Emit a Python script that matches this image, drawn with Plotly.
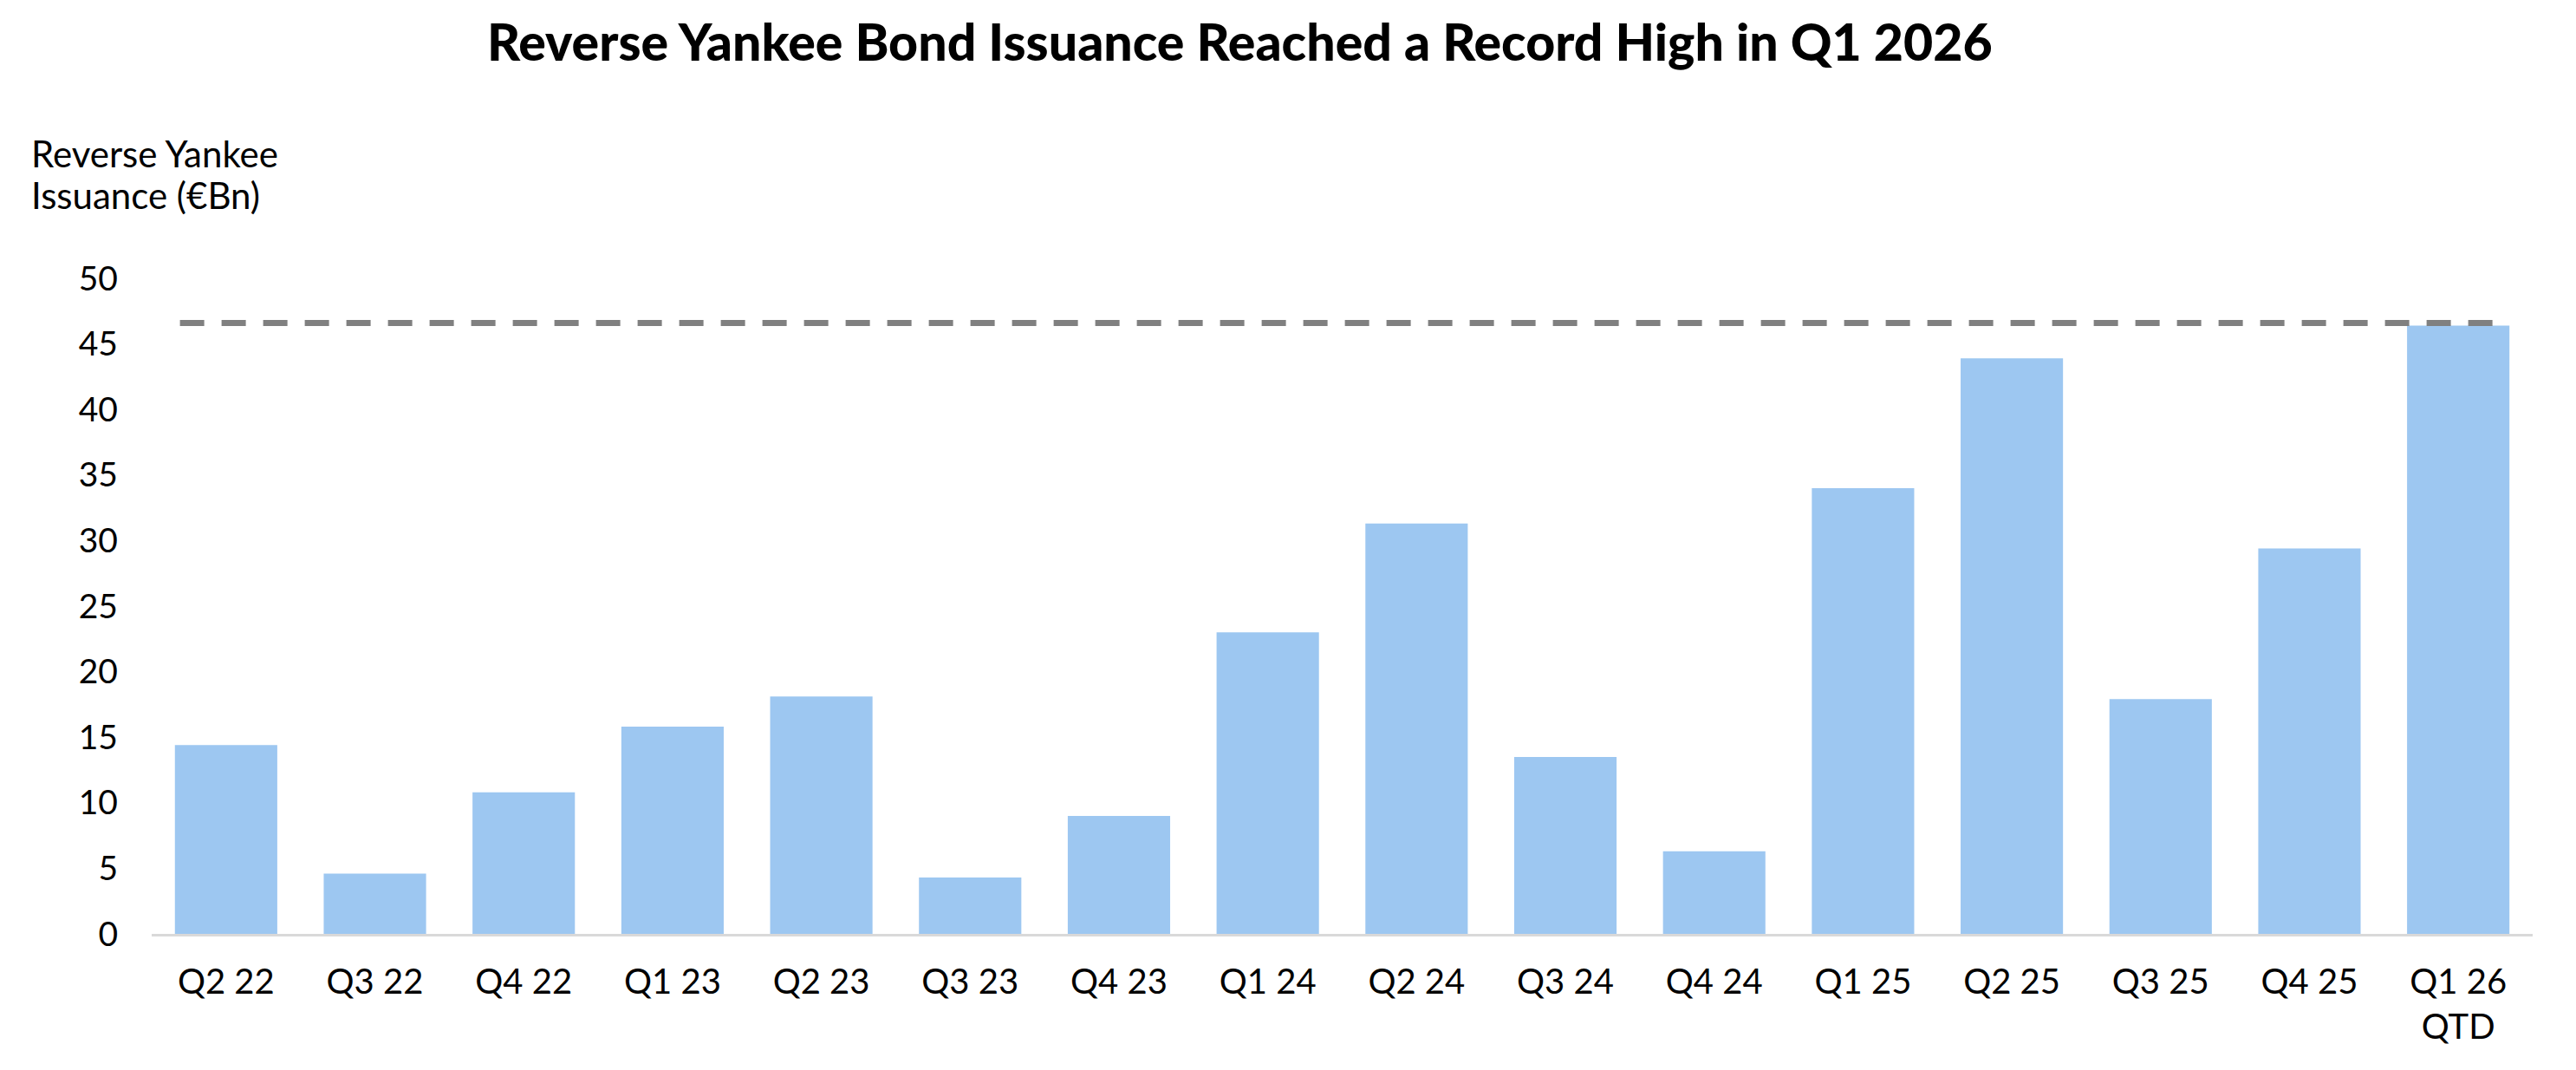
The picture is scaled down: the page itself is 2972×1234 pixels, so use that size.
import plotly.graph_objects as go

categories = ["Q2 22", "Q3 22", "Q4 22", "Q1 23", "Q2 23", "Q3 23", "Q4 23", "Q1 24",
              "Q2 24", "Q3 24", "Q4 24", "Q1 25", "Q2 25", "Q3 25", "Q4 25", "Q1 26<br>QTD"]
issuance = [14.4, 4.6, 10.8, 15.8, 18.1, 4.3, 9.0, 23.0,
            31.3, 13.5, 6.3, 34.0, 43.9, 17.9, 29.4, 46.4]
record_line = 46.6
y_ticks = [0, 5, 10, 15, 20, 25, 30, 35, 40, 45, 50]

# figure sized to fit inside the page's default 8px body margin
W, H = 2956, 1218
L, R, T, B = 167, 42, 313, 149
FONT = "Lato"

plot_w = W - L - R
plot_h = H - T - B


def px_x(x):
    return (x - L) / plot_w


def px_y(y_from_top):
    return (H - B - y_from_top) / plot_h


fig = go.Figure()
fig.add_trace(go.Bar(
    x=categories, y=issuance,
    marker=dict(color="#9DC7F1", line=dict(width=0)),
    hoverinfo="x+y",
))

fig.add_shape(type="line", xref="x", yref="y",
              x0=-0.31, x1=15.27, y0=record_line, y1=record_line,
              line=dict(color="#808080", width=7, dash="28px,20px"))

fig.update_layout(
    width=W, height=H,
    margin=dict(l=L, r=R, t=T, b=B, pad=0),
    paper_bgcolor="white", plot_bgcolor="white",
    bargap=0.312,
    showlegend=False,
    font=dict(family=FONT, size=38, color="#000000"),
)
fig.update_xaxes(
    type="category",
    showline=True, linecolor="#D9D9D9", linewidth=3,
    showgrid=False, ticks="", zeroline=False,
    ticklabelstandoff=18,
    tickfont=dict(family=FONT, size=40, color="#000000"),
)
fig.update_yaxes(
    range=[0, 50], tickvals=y_ticks,
    showline=False, showgrid=False, zeroline=False, ticks="",
    ticklabelstandoff=38,
    tickfont=dict(family=FONT, size=39, color="#000000"),
)

fig.add_annotation(
    text="Reverse Yankee Bond Issuance Reached a Record High in Q1 2026",
    xref="paper", yref="paper",
    x=px_x(1422), y=px_y(39),
    xanchor="center", yanchor="middle", showarrow=False,
    font=dict(family=FONT, size=59, color="#000000", weight=900),
)
for line_text, yc in [("Reverse Yankee", 169), ("Issuance (€Bn)", 217)]:
    fig.add_annotation(
        text=line_text,
        xref="paper", yref="paper",
        x=px_x(26), y=px_y(yc),
        xanchor="left", yanchor="middle", align="left", showarrow=False,
        font=dict(family=FONT, size=42, color="#000000"),
    )

fig.write_html("out.html")
